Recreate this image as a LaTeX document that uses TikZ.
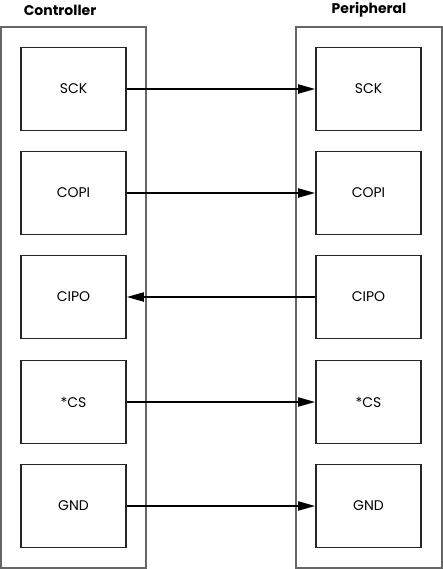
\documentclass[tikz,border=0pt]{standalone}
\usepackage{fontspec}
\setmainfont{Poppins}
\usetikzlibrary{arrows.meta}
\tikzset{
  pinbox/.style={draw=black!85, line width=1.6pt, minimum width=105pt,
    minimum height=83pt, inner sep=0pt, font=\fontsize{14}{16}\selectfont},
  chip/.style={draw=black!60, line width=1.2pt},
  title/.style={font=\bfseries\fontsize{14}{16}\selectfont},
  wire/.style={line width=1.8pt, -{Triangle[length=17pt,width=9pt]}}
}
\begin{document}
\begin{tikzpicture}[x=1pt,y=-1pt]
      \useasboundingbox (0,0) rectangle (443,569);
      % the two devices
      \draw[chip] (1,27) rectangle (146,568);
      \draw[chip] (296,27) rectangle (442,568);
      \node[title] (ctrl) at (60,10) {Controller};
      \node[title] (peri) at (369,10) {Peripheral};
      % pins of the controller
      \node[pinbox] (csck) at (73.5,89) {SCK};
      \node[pinbox] (ccopi) at (73.5,193) {COPI};
      \node[pinbox] (ccipo) at (73.5,297) {CIPO};
      \node[pinbox] (ccs) at (73.5,402) {*CS};
      \node[pinbox] (cgnd) at (73.5,506) {GND};
      % pins of the peripheral
      \node[pinbox] (psck) at (368.5,89) {SCK};
      \node[pinbox] (pcopi) at (368.5,193) {COPI};
      \node[pinbox] (pcipo) at (368.5,297) {CIPO};
      \node[pinbox] (pcs) at (368.5,402) {*CS};
      \node[pinbox] (pgnd) at (368.5,506) {GND};
      \begin{scope}[wire]
        \draw (csck) to (psck);
        \draw (ccopi) to (pcopi);
        \draw (pcipo) to (ccipo);
        \draw (ccs) to (pcs);
        \draw (cgnd) to (pgnd);
      \end{scope}
    \end{tikzpicture}
\end{document}
